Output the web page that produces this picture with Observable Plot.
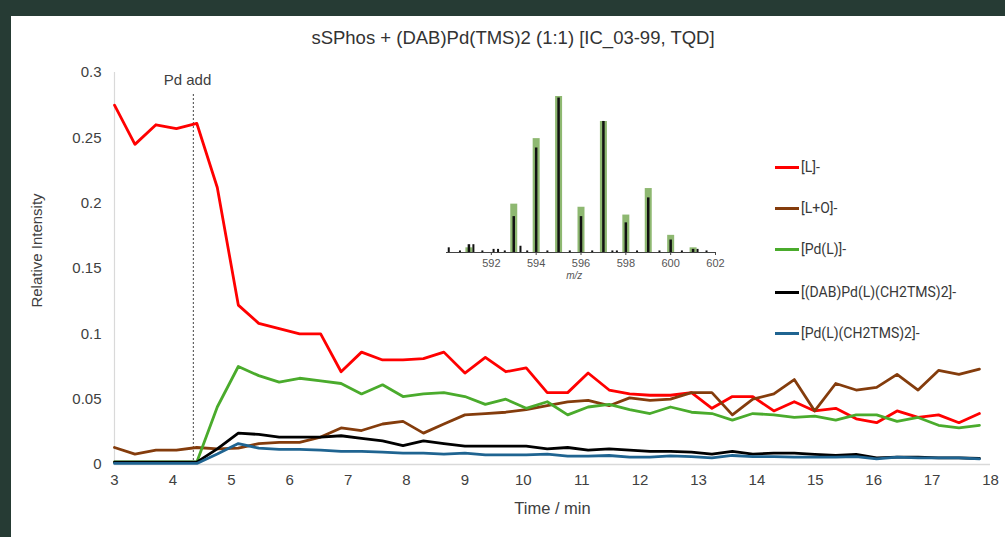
<!DOCTYPE html>
<html>
<head>
<meta charset="utf-8">
<script src="https://cdn.jsdelivr.net/npm/d3@7"></script>
<script src="https://cdn.jsdelivr.net/npm/@observablehq/plot@0.6"></script>
<style>
  html, body { margin: 0; padding: 0; }
  body { width: 1005px; height: 537px; background: #263b34; position: relative; overflow: hidden; font-family: "Liberation Sans", Arial, sans-serif; }
  #panel { position: absolute; left: 11px; top: 16px; width: 994px; height: 521px; background: #ffffff; }
  #title { position: absolute; left: 0; top: 28px; width: 1026px; text-align: center; font-size: 18.5px; color: #333; line-height: 20px; }
  #main { position: absolute; left: 0; top: 52px; }
  #inset { position: absolute; left: 436px; top: 85px; }
  .leg-line { position: absolute; width: 24px; height: 3px; left: 775px; }
  .leg-text { position: absolute; left: 801px; font-family: Roboto, "Liberation Sans", sans-serif; font-size: 14px; color: #383838; line-height: 16px; white-space: nowrap; }
</style>
</head>
<body>
<div id="panel"></div>
<div id="title">sSPhos + (DAB)Pd(TMS)2 (1:1) [IC_03-99, TQD]</div>
<div id="main"></div>
<div id="inset"></div>
<div id="legend"></div>
<script>
// ---- Main chart data ----
const times = [3.00, 3.35, 3.71, 4.06, 4.41, 4.76, 5.12, 5.47, 5.82, 6.17, 6.53, 6.88, 7.23, 7.59, 7.94, 8.29, 8.64, 9.00, 9.35, 9.70, 10.05, 10.41, 10.76, 11.11, 11.47, 11.82, 12.17, 12.52, 12.88, 13.23, 13.58, 13.93, 14.29, 14.64, 14.99, 15.35, 15.70, 16.05, 16.40, 16.76, 17.11, 17.46, 17.81];

const seriesNames = ["[L]-", "[L+O]-", "[Pd(L)]-", "[(DAB)Pd(L)(CH2TMS)2]-", "[Pd(L)(CH2TMS)2]-"];
const seriesColors = ["#ff0000", "#843c0c", "#4aab2c", "#000000", "#1f6491"];

const valuesL = [0.275,0.245,0.260,0.257,0.261,0.212,0.122,0.108,0.104,0.100,0.100,0.071,0.086,0.080,0.080,0.081,0.086,0.070,0.082,0.071,0.074,0.055,0.055,0.070,0.057,0.054,0.053,0.053,0.055,0.043,0.052,0.052,0.041,0.048,0.041,0.043,0.035,0.032,0.041,0.036,0.038,0.032,0.039];
const valuesLO = [0.013,0.008,0.011,0.011,0.013,0.012,0.0125,0.016,0.017,0.017,0.021,0.028,0.026,0.031,0.033,0.024,0.031,0.038,0.039,0.040,0.042,0.045,0.048,0.049,0.045,0.051,0.049,0.050,0.055,0.055,0.038,0.050,0.054,0.065,0.041,0.062,0.057,0.059,0.069,0.057,0.072,0.069,0.073];
const valuesPdL = [0.002,0.002,0.002,0.002,0.002,0.044,0.075,0.068,0.063,0.066,0.064,0.062,0.054,0.061,0.052,0.054,0.055,0.052,0.046,0.050,0.043,0.048,0.038,0.044,0.046,0.042,0.039,0.044,0.040,0.039,0.034,0.039,0.038,0.036,0.037,0.034,0.038,0.038,0.033,0.036,0.030,0.028,0.030];
const valuesDAB = [0.0018,0.0018,0.0018,0.0018,0.0018,0.012,0.024,0.023,0.021,0.021,0.021,0.022,0.020,0.018,0.0145,0.018,0.016,0.014,0.014,0.014,0.014,0.012,0.013,0.011,0.012,0.011,0.010,0.010,0.0094,0.008,0.010,0.008,0.0087,0.0087,0.0077,0.007,0.0077,0.005,0.0056,0.0056,0.005,0.005,0.0046];
const valuesPdCH = [0.0008,0.0008,0.0008,0.0008,0.0008,0.008,0.016,0.0125,0.0115,0.0115,0.011,0.010,0.010,0.0094,0.0087,0.0087,0.008,0.0087,0.0074,0.0074,0.0074,0.008,0.0064,0.0064,0.0069,0.0056,0.0056,0.0066,0.006,0.005,0.0069,0.006,0.006,0.0056,0.0056,0.0056,0.006,0.0043,0.0056,0.005,0.005,0.005,0.0043];

const xTicks = [3,4,5,6,7,8,9,10,11,12,13,14,15,16,17,18];
const yTicks = [0,0.05,0.1,0.15,0.2,0.25,0.3];
const yTickLabels = ["0","0.05","0.1","0.15","0.2","0.25","0.3"];

const annotations = [{t: 4.35, top: 0.284, labelT: 4.25, label: "Pd add"}];

// ---- Inset data (mass spectrum) ----
const peakMz = [591, 593, 594, 595, 596, 597, 598, 599, 600, 601];
const theoIntensity = [3, 31, 73, 100, 29, 84, 24, 41, 11, 3];
const expIntensity = [5, 23, 67, 99, 23, 84, 19, 35, 8, 2];
const noiseMz = [590.1, 590.6, 591.2, 591.6, 592.1, 592.3, 592.6, 593.3, 593.6, 594.5, 595.5, 596.5, 597.4, 597.6, 598.5, 599.5, 600.5, 601.2, 601.6];
const noiseIntensity = [3, 1, 5, 1, 2, 2, 1, 4, 1, 1, 1, 1, 1, 1, 1, 1, 1, 2, 1];
const insetTicks = [592, 594, 596, 598, 600, 602];

// ---- Build main chart ----
const allValues = [valuesL, valuesLO, valuesPdL, valuesDAB, valuesPdCH];
const rows = seriesNames.flatMap((name, s) => times.map((t, i) => ({t, v: allValues[s][i], name})));

const main = Plot.plot({
  width: 1005,
  height: 485,
  marginLeft: 114,
  marginRight: 15,
  marginTop: 20,
  marginBottom: 73,
  style: {background: "transparent", fontFamily: "'Liberation Sans', Arial, sans-serif", color: "#404040"},
  x: {domain: [3, 18], label: null},
  y: {domain: [0, 0.3], label: null},
  color: {domain: seriesNames, range: seriesColors},
  marks: [
    Plot.ruleX([3], {y1: 0, y2: 0.3, stroke: "#d9d9d9", strokeWidth: 1.2}),
    Plot.ruleY([0], {stroke: "#d9d9d9", strokeWidth: 1.5}),
    Plot.axisX({ticks: xTicks, tickSize: 0, tickPadding: 10, fontSize: 15, tickFormat: d => String(d)}),
    Plot.axisY({ticks: yTicks, tickSize: 0, tickPadding: 13, fontSize: 15, tickFormat: d => yTickLabels[yTicks.indexOf(d)]}),
    Plot.ruleX(annotations, {x: "t", y1: 0, y2: "top", stroke: "#444", strokeWidth: 1, strokeDasharray: "2,2"}),
    Plot.text(annotations, {x: "labelT", text: "label", frameAnchor: "top", lineAnchor: "middle", dy: 8, fontSize: 15, fill: "#404040"}),
    Plot.lineY(rows, {x: "t", y: "v", z: "name", stroke: "name", strokeWidth: 2.8, strokeLinejoin: "round"}),
    Plot.text(["Time / min"], {frameAnchor: "bottom", lineAnchor: "middle", dy: 44, fontSize: 16.5, fill: "#404040"}),
    Plot.text(["Relative Intensity"], {frameAnchor: "left", textAnchor: "middle", rotate: -90, dx: -77, dy: -18, fontSize: 15, fill: "#404040"})
  ]
});
document.getElementById("main").appendChild(main);

// ---- Inset ----
const peaks = peakMz.map((mz, i) => ({mz, theo: theoIntensity[i], exp: expIntensity[i]}));
const noise = noiseMz.map((mz, i) => ({mz, v: noiseIntensity[i]}));
const inset = Plot.plot({
  width: 290,
  height: 200,
  marginLeft: 10,
  marginRight: 11,
  marginTop: 11,
  marginBottom: 33,
  style: {background: "transparent", fontFamily: "'Liberation Sans', Arial, sans-serif", color: "#555"},
  x: {domain: [590, 602], label: null},
  y: {domain: [0, 100], label: null, axis: null},
  marks: [
    Plot.ruleX(peaks, {x: "mz", y1: 0, y2: "theo", stroke: "#7aab58", strokeWidth: 7, strokeOpacity: 0.85}),
    Plot.ruleX(noise, {x: "mz", y1: 0, y2: "v", stroke: "#111", strokeWidth: 2}),
    Plot.ruleX(peaks, {x: "mz", y1: 0, y2: "exp", stroke: "#111", strokeWidth: 2.5}),
    Plot.ruleY([0], {stroke: "#444", strokeWidth: 1.2}),
    Plot.axisX({ticks: insetTicks, tickSize: 3, tickPadding: 4, fontSize: 11, stroke: "#444"}),
    Plot.text(["m/z"], {frameAnchor: "bottom", x: 595.7, dy: 26, fontSize: 10, fontStyle: "italic", fill: "#555"})
  ]
});
document.getElementById("inset").appendChild(inset);

// ---- Legend ----
const legendY = [167, 208, 249, 292, 333];
const legend = document.getElementById("legend");
seriesNames.forEach((name, i) => {
  const line = document.createElement("div");
  line.className = "leg-line";
  line.style.top = (legendY[i] - 1.5) + "px";
  line.style.background = seriesColors[i];
  legend.appendChild(line);
  const txt = document.createElement("div");
  txt.className = "leg-text";
  txt.style.top = (legendY[i] - 8) + "px";
  txt.textContent = name;
  legend.appendChild(txt);
});
</script>
</body>
</html>
